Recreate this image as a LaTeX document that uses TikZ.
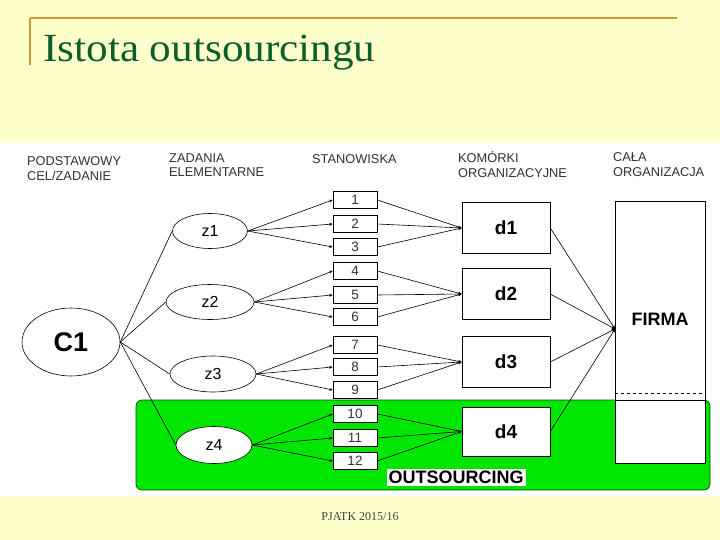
\documentclass[tikz,border=0pt]{standalone}
\usepackage{fontspec}
\setmainfont{Liberation Serif}
\setsansfont{Liberation Sans}
\usetikzlibrary{arrows.meta,shapes.geometric}
\definecolor{slidebg}{RGB}{255,255,204}
\definecolor{goldline}{RGB}{200,160,40}
\definecolor{titlegreen}{RGB}{10,95,45}
\definecolor{outgreen}{RGB}{0,230,0}
\definecolor{hdrgray}{RGB}{50,50,50}
\tikzset{
  hdr/.style={anchor=base west,inner sep=0pt,text=hdrgray,font=\sffamily\fontsize{12.8}{15}\selectfont},
  ell/.style={draw,ellipse,inner sep=0pt,line width=0.6pt,fill=white,font=\sffamily\fontsize{16}{16}\selectfont},
  numbox/.style={draw,rectangle,line width=0.6pt,fill=white,minimum width=44pt,minimum height=17pt,inner sep=0pt,text=hdrgray,font=\sffamily\fontsize{13.5}{13.5}\selectfont},
  dbox/.style={draw,rectangle,line width=0.6pt,fill=white,minimum width=88pt,minimum height=51pt,inner sep=0pt,font=\sffamily\bfseries\fontsize{19}{19}\selectfont},
  conn/.style={line width=0.6pt},
  arr/.style={line width=0.6pt,-{Stealth[length=3.5pt,width=3pt]}}
}
\begin{document}
\begin{tikzpicture}[x=1pt,y=-1pt]
\useasboundingbox (0,0) rectangle (720,540);
\fill[slidebg] (0,0) rectangle (720,540);
% gold frame lines
\draw[goldline,line width=1.6pt] (30,18) -- (677,18);
\draw[goldline,line width=1.6pt] (30,18) -- (30,65);
\node[anchor=base west,inner sep=0pt,text=titlegreen,font=\fontsize{40}{40}\selectfont] (title) at (43,62) {\scalebox{1.08}[1]{Istota outsourcingu}};
% white diagram area
\fill[white] (0,142) rectangle (720,496);
% green outsourcing area
\draw[fill=outgreen,draw=black!70!green,line width=0.7pt,rounded corners=6pt] (136,400) rectangle (710,490);
% headers
\node[hdr] (h1a) at (27,166) {PODSTAWOWY};
\node[hdr] (h1b) at (27,181) {CEL/ZADANIE};
\node[hdr] (h2a) at (169,163) {ZADANIA};
\node[hdr] (h2b) at (169,177) {ELEMENTARNE};
\node[hdr] (h3) at (312,164) {STANOWISKA};
\node[hdr] (h4a) at (458,163) {KOMÓRKI};
\node[hdr] (h4b) at (458,178) {ORGANIZACYJNE};
\node[hdr] (h5a) at (613,162) {CAŁA};
\node[hdr] (h5b) at (613,177) {ORGANIZACJA};
% main goal
\node[ell,minimum width=98pt,minimum height=68pt,font=\sffamily\bfseries\fontsize{27}{27}\selectfont] (c1) at (71,342) {C1};
% elementary tasks
\node[ell,minimum width=75pt,minimum height=35pt] (z1) at (210,231) {z1};
\node[ell,minimum width=88pt,minimum height=35pt] (z2) at (210,302) {z2};
\node[ell,minimum width=86pt,minimum height=36pt] (z3) at (213,374) {z3};
\node[ell,minimum width=76pt,minimum height=37pt] (z4) at (214,445) {z4};
% posts
\node[numbox] (b1) at (355,200) {1};
\node[numbox] (b2) at (355,224) {2};
\node[numbox] (b3) at (355,247) {3};
\node[numbox] (b4) at (355,271) {4};
\node[numbox] (b5) at (355,295) {5};
\node[numbox] (b6) at (355,317) {6};
\node[numbox] (b7) at (355,345) {7};
\node[numbox] (b8) at (355,367) {8};
\node[numbox] (b9) at (355,390) {9};
\node[numbox] (b10) at (355,414) {10};
\node[numbox] (b11) at (355,438) {11};
\node[numbox] (b12) at (355,461) {12};
% organisational units
\node[dbox] (d1) at (506,228) {d1};
\node[dbox] (d2) at (506,294) {d2};
\node[dbox] (d3) at (506,362) {d3};
\node[dbox,minimum height=49pt] (d4) at (506,431.5) {d4};
% whole organisation
\node[draw,rectangle,line width=0.6pt,fill=white,minimum width=90pt,minimum height=262pt,inner sep=0pt] (firmabox) at (660,332) {};
\draw[line width=0.6pt] (firmabox.west |- 0,400) -- (firmabox.east |- 0,400);
\draw[line width=0.6pt,dashed] (firmabox.west |- 0,393) -- (firmabox.east |- 0,393);
\node[inner sep=0pt,font=\sffamily\bfseries\fontsize{18}{18}\selectfont] (firma) at (660,319) {FIRMA};
\coordinate (fp) at (615,329);
% outsourcing label
\node[fill=white,inner xsep=2pt,inner ysep=2pt,font=\sffamily\bfseries\fontsize{18}{18}\selectfont] (outs) at (456,477.5) {OUTSOURCING};
% connectors C1 -> z
\foreach \z in {z1,z2,z3,z4} \draw[conn] (c1.east) -- (\z.west);
% z -> posts
\foreach \b in {b1,b2,b3} \draw[arr] (z1.east) -- (\b.west);
\foreach \b in {b4,b5,b6} \draw[arr] (z2.east) -- (\b.west);
\foreach \b in {b7,b8,b9} \draw[arr] (z3.east) -- (\b.west);
\foreach \b in {b10,b11,b12} \draw[arr] (z4.east) -- (\b.west);
% posts -> units
\foreach \b in {b1,b2,b3} \draw[arr] (\b.east) -- (d1.west);
\foreach \b in {b4,b5,b6} \draw[arr] (\b.east) -- (d2.west);
\foreach \b in {b7,b8,b9} \draw[arr] (\b.east) -- (d3.west);
\foreach \b in {b10,b11,b12} \draw[arr] (\b.east) -- (d4.west);
% units -> firm
\foreach \d in {d1,d2,d3,d4} \draw[arr] (\d.east) -- (fp);
% footer
\node[inner sep=0pt,text=black!75,font=\fontsize{12}{12}\selectfont] (footer) at (360,517) {PJATK 2015/16};
\end{tikzpicture}
\end{document}
